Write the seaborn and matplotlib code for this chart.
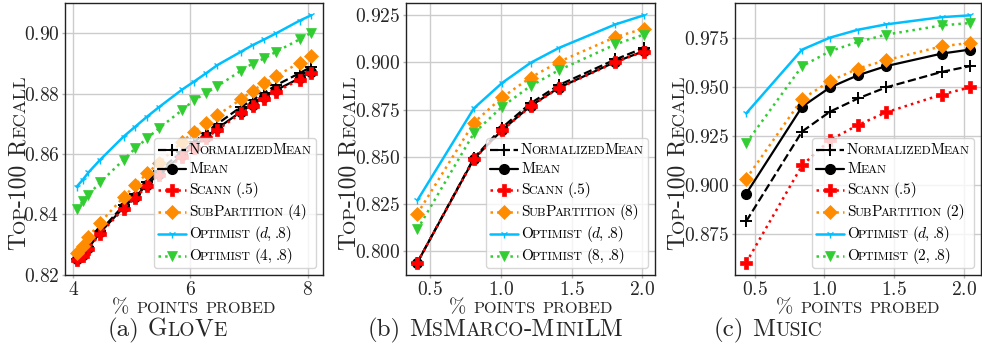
import matplotlib
matplotlib.use("Agg")
import matplotlib.pyplot as plt
import seaborn as sns
from matplotlib.font_manager import FontProperties
from matplotlib.lines import Line2D
from matplotlib.ticker import MultipleLocator
from matplotlib.offsetbox import TextArea, HPacker, VPacker, DrawingArea, AnchoredOffsetbox

# ---------------- data ----------------
method_names = ["NormalizedMean", "Mean", "Scann", "SubPartition", "Optimist", "Optimist"]

glove_x = [4.06, 4.16, 4.26, 4.46, 4.86, 5.06, 5.26, 5.46, 5.86,
           6.06, 6.26, 6.46, 6.86, 7.06, 7.26, 7.46, 7.86, 8.06]
glove_normmean = [0.8253, 0.8268, 0.8292, 0.8345, 0.8430, 0.8467, 0.8507, 0.8545, 0.8608,
                  0.8639, 0.8671, 0.8700, 0.8756, 0.8779, 0.8803, 0.8828, 0.8868, 0.8889]
glove_mean = [0.8251, 0.8266, 0.8289, 0.8340, 0.8423, 0.8459, 0.8498, 0.8535, 0.8596,
              0.8626, 0.8657, 0.8685, 0.8740, 0.8764, 0.8788, 0.8812, 0.8851, 0.8872]
glove_scann = [0.8248, 0.8262, 0.8285, 0.8336, 0.8419, 0.8455, 0.8494, 0.8531, 0.8591,
               0.8621, 0.8652, 0.8680, 0.8735, 0.8759, 0.8783, 0.8807, 0.8846, 0.8868]
glove_subpart = [0.8272, 0.8296, 0.8325, 0.8373, 0.8457, 0.8498, 0.8536, 0.8570, 0.8641,
                 0.8674, 0.8702, 0.8729, 0.8781, 0.8810, 0.8834, 0.8858, 0.8903, 0.8925]
glove_opt_d = [0.8492, 0.8514, 0.8539, 0.8581, 0.8658, 0.8691, 0.8724, 0.8755, 0.8814,
               0.8840, 0.8867, 0.8895, 0.8939, 0.8961, 0.8980, 0.9000, 0.9042, 0.9060]
glove_opt_k = [0.8417, 0.8443, 0.8465, 0.8506, 0.8581, 0.8619, 0.8652, 0.8685, 0.8746,
               0.8779, 0.8801, 0.8825, 0.8876, 0.8900, 0.8917, 0.8939, 0.8980, 0.9002]
glove_params = ["", "", " (.5)", " (4)", " ($d$, .8)", " (4, .8)"]

marco_x = [0.41, 0.81, 1.01, 1.21, 1.41, 1.81, 2.01]
marco_normmean = [0.7938, 0.8493, 0.8655, 0.8783, 0.8880, 0.9016, 0.9077]
marco_mean = [0.7938, 0.8489, 0.8642, 0.8769, 0.8866, 0.9003, 0.9060]
marco_scann = [0.7938, 0.8487, 0.8640, 0.8767, 0.8864, 0.9001, 0.9058]
marco_subpart = [0.8197, 0.8681, 0.8815, 0.8920, 0.9003, 0.9135, 0.9179]
marco_opt_d = [0.8268, 0.8757, 0.8892, 0.8998, 0.9077, 0.9202, 0.9250]
marco_opt_k = [0.8114, 0.8625, 0.8766, 0.8875, 0.8959, 0.9096, 0.9148]
marco_params = ["", "", " (.5)", " (8)", " ($d$, .8)", " (8, .8)"]

music_x = [0.44, 0.84, 1.04, 1.24, 1.44, 1.84, 2.04]
music_normmean = [0.8817, 0.9273, 0.9374, 0.9441, 0.9497, 0.9576, 0.9605]
music_mean = [0.8957, 0.9399, 0.9497, 0.9559, 0.9605, 0.9669, 0.9689]
music_scann = [0.8607, 0.9101, 0.9230, 0.9306, 0.9370, 0.9461, 0.9497]
music_subpart = [0.9033, 0.9438, 0.9529, 0.9593, 0.9635, 0.9706, 0.9723]
music_opt_d = [0.9365, 0.9689, 0.9750, 0.9790, 0.9817, 0.9854, 0.9863]
music_opt_k = [0.9214, 0.9605, 0.9681, 0.9728, 0.9765, 0.9812, 0.9824]
music_params = ["", "", " (.5)", " (2)", " ($d$, .8)", " (2, .8)"]

captions = [("(a) ", "GloVe"), ("(b) ", "MsMarco-MiniLM"), ("(c) ", "Music")]
x_label = "% points probed"
y_label = "Top-100 Recall"

# ---------------- style ----------------
sns.set_theme(style="whitegrid", rc={"grid.color": "0.8", "grid.linewidth": 1.0})
FAMILY = ["cmr10", "DejaVu Serif"]
MATH_FAMILY = ["cmmi10", "DejaVu Serif"]
plt.rcParams["font.family"] = FAMILY
plt.rcParams["mathtext.fontset"] = "cm"
plt.rcParams["axes.formatter.use_mathtext"] = True
plt.rcParams["axes.unicode_minus"] = False

SC = 0.78          # small-caps scale
SPACE_EM = 0.333   # interword space
TICK_SIZE = 14
XLABEL_SIZE = 15
YLABEL_SIZE = 17
CAPTION_SIZE = 18
LEGEND_SIZE = 11

styles = [
    dict(color="black", linestyle="--", marker="+", markersize=9, mew=1.4, lw=1.6),
    dict(color="black", linestyle="-", marker="o", markersize=7, mew=1.0, lw=1.6),
    dict(color="red", linestyle=":", marker="P", markersize=9, mew=0.5, lw=1.8),
    dict(color="darkorange", linestyle=":", marker="D", markersize=6.8, mew=0.5, lw=1.8),
    dict(color="deepskyblue", linestyle="-", marker="1", markersize=6, mew=1.0, lw=1.8),
    dict(color="limegreen", linestyle=":", marker="v", markersize=7.5, mew=0.5, lw=1.8),
]

W, H = 982, 358
fig = plt.figure(figsize=(W / 100, H / 100), dpi=100)
renderer = fig.canvas.get_renderer()


def sc_runs(word):
    out = []
    for ch in word:
        small = ch.islower()
        s = ch.upper() if small else ch
        if out and out[-1][1] == small:
            out[-1] = (out[-1][0] + s, small)
        else:
            out.append((s, small))
    return [(s, SC if small else 1.0) for s, small in out]


def tokens(sc_text="", prefix="", suffix=""):
    toks = []

    def add_plain(txt):
        for i, part in enumerate(txt.split(" ")):
            if i > 0:
                toks.append((" ", 1.0))
            for j, seg in enumerate(part.split("$")):
                if seg:
                    toks.append(("$%s$" % seg if j % 2 else seg, 1.0))

    add_plain(prefix)
    for i, word in enumerate(sc_text.split(" ") if sc_text else []):
        if i > 0:
            toks.append((" ", 1.0))
        toks.extend(sc_runs(word))
    add_plain(suffix)
    return toks


def fig_text(toks, size, cx, cy, rotation=0):
    """Draw a run of mixed-size pieces centred on (cx, baseline) in pixels from top-left."""
    adv = []
    for s, f in toks:
        if s == " ":
            adv.append(SPACE_EM * size * f * 100 / 72)
        else:
            prop = FontProperties(family=FAMILY, size=size * f)
            w, h, d = renderer.get_text_width_height_descent(s, prop, ismath=False)
            adv.append(w)
    total = sum(adv)
    o = 0.0
    for (s, f), a in zip(toks, adv):
        if s != " ":
            if rotation == 0:
                fig.text((cx - total / 2 + o) / W, 1 - cy / H, s, size=size * f,
                         family=FAMILY, ha="left", va="baseline")
            else:
                fig.text(cx / W, 1 - (cy + total / 2 - o) / H, s, size=size * f,
                         family=FAMILY, ha="left", va="baseline",
                         rotation=90, rotation_mode="anchor")
        o += a


def add_legend(ax, labels):
    HL, HH = 20, 7
    rows = []
    for st, toks in zip(styles, labels):
        da = DrawingArea(HL, HH, 0, 0)
        da.add_artist(Line2D([0, HL], [HH / 2, HH / 2], color=st["color"],
                             linestyle=st["linestyle"], linewidth=st["lw"]))
        da.add_artist(Line2D([HL / 2], [HH / 2], color=st["color"], marker=st["marker"],
                             markersize=st["markersize"], markeredgewidth=st["mew"],
                             markeredgecolor=st["color"], linestyle="none"))
        parts = []
        for s, f in toks:
            if s == " ":
                parts.append(DrawingArea(SPACE_EM * LEGEND_SIZE * f, 0, 0, 0))
            elif s.startswith("$"):
                parts.append(TextArea(s.strip("$"), textprops=dict(
                    size=LEGEND_SIZE * f, family=MATH_FAMILY, color="black")))
            else:
                parts.append(TextArea(s, textprops=dict(size=LEGEND_SIZE * f,
                                                        family=FAMILY, color="black")))
        txt = HPacker(children=parts, align="baseline", pad=0, sep=-0.6)
        rows.append(HPacker(children=[da, txt], align="center", pad=0, sep=2))
    col = VPacker(children=rows, align="left", pad=0, sep=4.2)
    box = AnchoredOffsetbox(loc="lower right", child=col, pad=0.3, borderpad=0.45,
                            frameon=True, bbox_to_anchor=(1, 0),
                            bbox_transform=ax.transAxes, prop=dict(size=LEGEND_SIZE))
    box.patch.set_boxstyle("round,pad=0,rounding_size=0.2")
    box.patch.set_facecolor("white")
    box.patch.set_alpha(0.8)
    box.patch.set_edgecolor("0.8")
    box.set_zorder(5)
    ax.add_artist(box)


panels = [
    dict(x=glove_x, ys=[glove_normmean, glove_mean, glove_scann, glove_subpart, glove_opt_d, glove_opt_k],
         params=glove_params, xstep=2, ystep=0.02, ybottom=0.8199,
         box=(65, 323), ylab_x=25, cap_x=167),
    dict(x=marco_x, ys=[marco_normmean, marco_mean, marco_scann, marco_subpart, marco_opt_d, marco_opt_k],
         params=marco_params, xstep=0.5, ystep=0.025, ybottom=None,
         box=(406, 655), ylab_x=355, cap_x=495),
    dict(x=music_x, ys=[music_normmean, music_mean, music_scann, music_subpart, music_opt_d, music_opt_k],
         params=music_params, xstep=0.5, ystep=0.025, ybottom=None,
         box=(735, 981), ylab_x=684, cap_x=768),
]

TOP, BOTTOM = 3, 275
for p, cap in zip(panels, captions):
    left, right = p["box"]
    ax = fig.add_axes([left / W, 1 - BOTTOM / H, (right - left) / W, (BOTTOM - TOP) / H])
    for ys, st in zip(p["ys"], styles):
        sns.lineplot(x=p["x"], y=ys, ax=ax, color=st["color"], linestyle=st["linestyle"],
                     linewidth=st["lw"], marker=st["marker"], markersize=st["markersize"],
                     markeredgewidth=st["mew"], markeredgecolor=st["color"], legend=False)
    if p["ybottom"] is not None:
        ax.set_ylim(bottom=p["ybottom"])
    ax.xaxis.set_major_locator(MultipleLocator(p["xstep"]))
    ax.yaxis.set_major_locator(MultipleLocator(p["ystep"]))
    ax.tick_params(axis="both", labelsize=TICK_SIZE, length=2.5, width=1, color="0.7",
                   bottom=True, left=True, pad=1.5)
    for sp in ax.spines.values():
        sp.set_color("#222222")
        sp.set_linewidth(1.0)
    ax.set_xlabel("")
    ax.set_ylabel("")
    add_legend(ax, [tokens(n, suffix=s) for n, s in zip(method_names, p["params"])])

    fig_text(tokens(x_label), XLABEL_SIZE, (left + right) / 2, 313)
    fig_text(tokens(y_label), YLABEL_SIZE, p["ylab_x"], 163, rotation=90)
    fig_text(tokens(cap[1], prefix=cap[0]), CAPTION_SIZE, p["cap_x"], 336)

fig.savefig("out.png", dpi=100)
